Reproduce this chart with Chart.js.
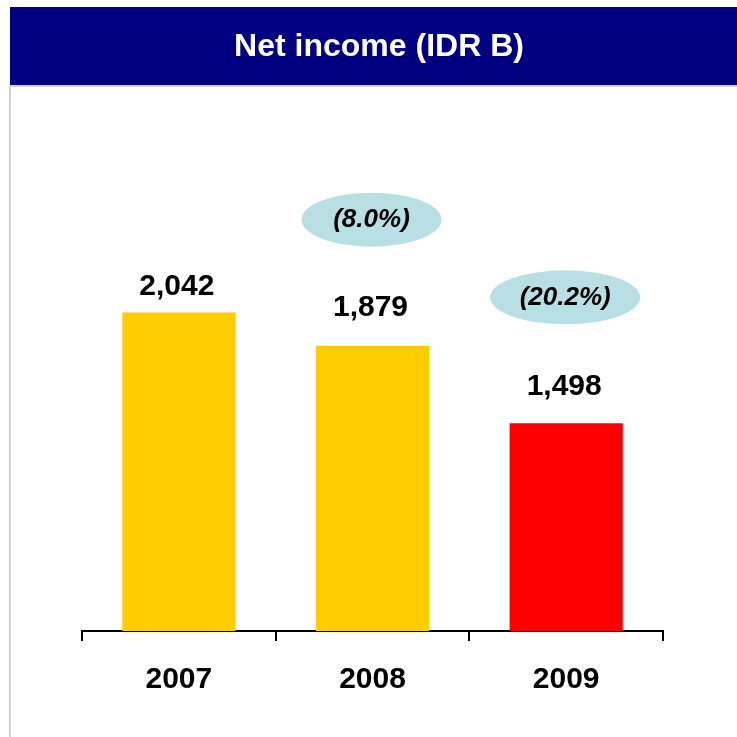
<!DOCTYPE html>
<html>
<head>
<meta charset="utf-8">
<script src="https://cdn.jsdelivr.net/npm/chart.js@4/dist/chart.umd.min.js"></script>
<style>
  html, body { margin: 0; padding: 0; background: #fff; }
  canvas { display: block; }
</style>
</head>
<body>
<canvas id="c" width="737" height="737"></canvas>
<script>
const years = ['2007', '2008', '2009'];
const netIncome = [2042, 1879, 1498];
const valueLabels = ['2,042', '1,879', '1,498'];
const changeLabels = [null, '(8.0%)', '(20.2%)'];
const barColors = ['#ffcc00', '#ffcc00', '#ff0000'];

const FONT = '"Liberation Sans", Arial, sans-serif';

// title bar and frame lines
const framePlugin = {
  id: 'frame',
  beforeDraw(chart) {
    const ctx = chart.ctx;
    ctx.save();
    ctx.fillStyle = '#fff';
    ctx.fillRect(0, 0, chart.width, chart.height);
    ctx.fillStyle = '#000080';
    ctx.fillRect(10, 7, 727, 78);
    ctx.fillStyle = '#d4d4d4';
    ctx.fillRect(10, 85, 727, 2);
    ctx.fillRect(9, 85, 2, 652);
    ctx.fillStyle = '#fff';
    ctx.font = 'bold 32px ' + FONT;
    ctx.textAlign = 'center';
    ctx.textBaseline = 'middle';
    ctx.fillText('Net income (IDR B)', 379, 47);
    ctx.restore();
  }
};

// value labels above bars and growth ovals
const labelPlugin = {
  id: 'labels',
  afterDatasetsDraw(chart) {
    const ctx = chart.ctx;
    const bars = chart.getDatasetMeta(0).data;
    const labelGap = [26, 38, 37];
    ctx.save();
    ctx.textAlign = 'center';
    ctx.textBaseline = 'middle';
    bars.forEach((bar, i) => {
      ctx.fillStyle = '#000';
      ctx.font = 'bold 30px ' + FONT;
      ctx.fillText(valueLabels[i], bar.x - 2, bar.y - labelGap[i]);
      if (changeLabels[i]) {
        const cy = bar.y - 126;
        const rx = i === 2 ? 75 : 70;
        ctx.fillStyle = '#b8e0e4';
        ctx.beginPath();
        ctx.ellipse(bar.x - 1, cy, rx, 27, 0, 0, Math.PI * 2);
        ctx.fill();
        ctx.fillStyle = '#000';
        ctx.font = 'italic bold 26px ' + FONT;
        ctx.fillText(changeLabels[i], bar.x - 1, cy);
      }
    });
    ctx.restore();
  }
};

new Chart(document.getElementById('c'), {
  type: 'bar',
  data: {
    labels: years,
    datasets: [{
      data: netIncome,
      backgroundColor: barColors,
      barPercentage: 0.584,
      categoryPercentage: 1
    }]
  },
  options: {
    responsive: false,
    animation: false,
    layout: { padding: { top: 117, left: 82, right: 74, bottom: 18 } },
    plugins: { legend: { display: false }, tooltip: { enabled: false } },
    scales: {
      y: { display: false, min: 480, max: 3000 },
      x: {
        offset: true,
        grid: {
          offset: true,
          drawOnChartArea: false,
          drawTicks: true,
          tickLength: 10,
          color: '#000',
          lineWidth: 2
        },
        border: { display: true, color: '#000', width: 2 },
        ticks: {
          color: '#000',
          padding: 21,
          font: { family: FONT, size: 30, weight: 'bold' }
        }
      }
    }
  },
  plugins: [framePlugin, labelPlugin]
});
</script>
</body>
</html>
